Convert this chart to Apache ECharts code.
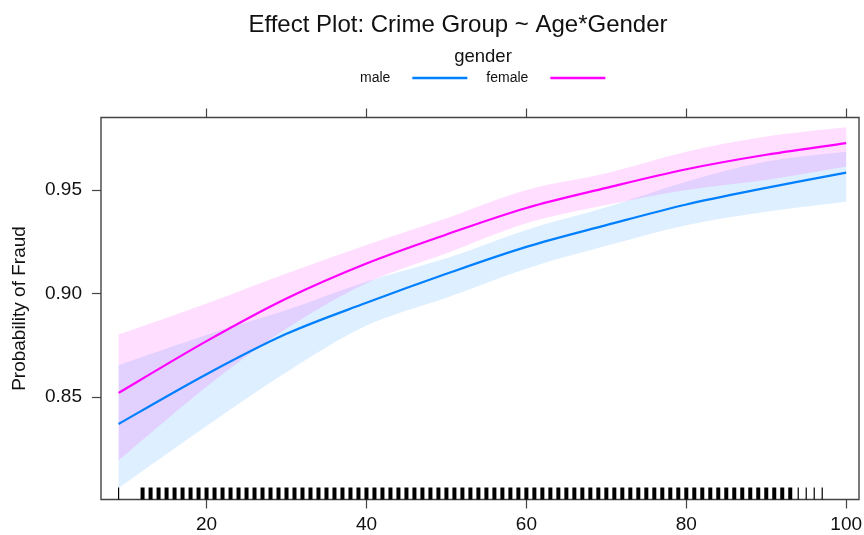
<!DOCTYPE html>
<html>
<head>
<meta charset="utf-8">
<title>Effect Plot: Crime Group ~ Age*Gender</title>
<script src="https://cdn.jsdelivr.net/npm/echarts@6/dist/echarts.min.js"></script>
<style>
  html, body { margin: 0; padding: 0; background: #ffffff; }
  #chart { width: 864px; height: 535px; }
</style>
</head>
<body>
<div id="chart"></div>
<script>
// Fitted probability of fraud by age, per gender, with confidence bands
const ages = [9, 20, 30, 40, 50, 60, 70, 80, 90, 100];

const maleFit   = [0.837, 0.861, 0.8805, 0.8955, 0.9095, 0.9225, 0.933, 0.943, 0.951, 0.9584];
const maleLower = [0.806, 0.836, 0.862, 0.8845, 0.898, 0.912, 0.923, 0.933, 0.9395, 0.9443];
const maleUpper = [0.8654, 0.880, 0.892, 0.9057, 0.917, 0.9307, 0.9416, 0.954, 0.9637, 0.9685];

const femaleFit   = [0.852, 0.877, 0.8976, 0.9145, 0.9285, 0.9413, 0.951, 0.960, 0.967, 0.9726];
const femaleLower = [0.8194, 0.855, 0.8831, 0.905, 0.9194, 0.9339, 0.9427, 0.950, 0.9548, 0.9613];
const femaleUpper = [0.8802, 0.8952, 0.9097, 0.9234, 0.9363, 0.950, 0.9581, 0.9685, 0.9758, 0.9803];

// Observed ages (rug); dense ages carry many observations, sparse ones few
const rugDenseAges = [12, 13, 14, 15, 16, 17, 18, 19, 20, 21, 22, 23, 24, 25, 26, 27, 28, 29, 30,
  31, 32, 33, 34, 35, 36, 37, 38, 39, 40, 41, 42, 43, 44, 45, 46, 47, 48, 49, 50,
  51, 52, 53, 54, 55, 56, 57, 58, 59, 60, 61, 62, 63, 64, 65, 66, 67, 68, 69, 70,
  71, 72, 73, 74, 75, 76, 77, 78, 79, 80, 81, 82, 83, 84, 85, 86, 87, 88, 89, 90,
  91, 92, 93];
const rugSparseAges = [9, 94, 95, 96, 97];

// Tick labels
const xTicks = [20, 40, 60, 80, 100];
const yTicks = [0.85, 0.90, 0.95];

const X_MIN = 6.8, X_MAX = 101.6;
const Y_MIN = 0.8005, Y_MAX = 0.985;

const FONT = '"Liberation Sans", Arial, Helvetica, sans-serif';
const BLUE = '#0080ff';
const MAGENTA = '#ff00ff';
const FRAME = '#444444';
const TEXT = '#111111';

// Catmull-Rom curve through pixel points, as cubic bezier path commands
function curveCommands(pts) {
  let d = '';
  for (let i = 0; i < pts.length - 1; i++) {
    const p0 = pts[Math.max(i - 1, 0)];
    const p1 = pts[i];
    const p2 = pts[i + 1];
    const p3 = pts[Math.min(i + 2, pts.length - 1)];
    const c1 = [p1[0] + (p2[0] - p0[0]) / 6, p1[1] + (p2[1] - p0[1]) / 6];
    const c2 = [p2[0] - (p3[0] - p1[0]) / 6, p2[1] - (p3[1] - p1[1]) / 6];
    d += ' C ' + c1[0] + ' ' + c1[1] + ' ' + c2[0] + ' ' + c2[1] + ' ' + p2[0] + ' ' + p2[1];
  }
  return d;
}

// Confidence band: filled region between lower and upper bounds
function bandSeries(name, lower, upper, color) {
  return {
    type: 'custom',
    name: name,
    data: [[X_MIN, Y_MIN]],
    encode: { x: 0, y: 1 },
    silent: true,
    clip: true,
    z: 1,
    renderItem: (params, api) => {
      const up = ages.map((a, i) => api.coord([a, upper[i]]));
      const lo = ages.map((a, i) => api.coord([a, lower[i]])).reverse();
      const d = 'M ' + up[0][0] + ' ' + up[0][1] + curveCommands(up) +
        ' L ' + lo[0][0] + ' ' + lo[0][1] + curveCommands(lo) + ' Z';
      return { type: 'path', shape: { pathData: d }, style: { fill: color, stroke: null } };
    }
  };
}

// Fitted curve for one gender
function fitSeries(name, fit, color) {
  return {
    type: 'custom',
    name: name,
    data: [[X_MIN, Y_MIN]],
    encode: { x: 0, y: 1 },
    itemStyle: { color: color },
    silent: true,
    clip: true,
    z: 4,
    renderItem: (params, api) => {
      const pts = ages.map((a, i) => api.coord([a, fit[i]]));
      const d = 'M ' + pts[0][0] + ' ' + pts[0][1] + curveCommands(pts);
      return { type: 'path', shape: { pathData: d }, style: { fill: 'none', stroke: color, lineWidth: 2.2 } };
    }
  };
}

function rugSeries(list, w) {
  return {
    type: 'custom',
    data: list.map(a => [a, Y_MIN]),
    encode: { x: 0, y: 1 },
    silent: true,
    z: 3,
    renderItem: (params, api) => {
      const p = api.coord([api.value(0), Y_MIN]);
      return {
        type: 'rect',
        shape: { x: p[0] - w / 2, y: p[1] - 12, width: w, height: 12 },
        style: { fill: '#000000' }
      };
    }
  };
}

const chart = echarts.init(document.getElementById('chart'), null, { renderer: 'canvas' });

chart.setOption({
  animation: false,
  backgroundColor: '#ffffff',
  title: [
    {
      text: 'Effect Plot: Crime Group ~ Age*Gender',
      left: 453, top: 8, textAlign: 'center',
      textStyle: { fontFamily: FONT, fontSize: 24, fontWeight: 'normal', color: TEXT }
    },
    {
      text: 'gender',
      left: 478, top: 42, textAlign: 'center',
      textStyle: { fontFamily: FONT, fontSize: 18.5, fontWeight: 'normal', color: TEXT }
    }
  ],
  legend: {
    data: ['male', 'female'],
    left: 355, top: 66,
    align: 'right',
    icon: 'rect',
    itemWidth: 55, itemHeight: 2.5,
    itemGap: 19,
    selectedMode: false,
    textStyle: { fontFamily: FONT, fontSize: 14, color: TEXT, padding: [0, 17, 0, 0] }
  },
  grid: {
    left: 101, right: 5, top: 117.5, bottom: 35.5,
    show: true, borderColor: FRAME, borderWidth: 1.4,
    backgroundColor: 'transparent',
    outerBoundsMode: 'none', containLabel: false
  },
  xAxis: [
    {
      type: 'value', position: 'bottom', min: X_MIN, max: X_MAX,
      axisLine: { show: false },
      splitLine: { show: false },
      axisTick: { show: true, inside: false, length: 9, customValues: xTicks, lineStyle: { color: FRAME, width: 1.2 } },
      axisLabel: { show: true, customValues: xTicks, margin: 16, fontFamily: FONT, fontSize: 19, color: TEXT }
    },
    {
      type: 'value', position: 'top', min: X_MIN, max: X_MAX,
      axisLine: { show: false },
      splitLine: { show: false },
      axisTick: { show: true, inside: false, length: 9, customValues: xTicks, lineStyle: { color: FRAME, width: 1.2 } },
      axisLabel: { show: false }
    }
  ],
  yAxis: {
    type: 'value', min: Y_MIN, max: Y_MAX,
    name: 'Probability of Fraud', nameLocation: 'middle', nameRotate: 90, nameGap: 72,
    nameTextStyle: { fontFamily: FONT, fontSize: 19, color: TEXT },
    axisLine: { show: false },
    splitLine: { show: false },
    axisTick: { show: true, inside: false, length: 9, customValues: yTicks, lineStyle: { color: FRAME, width: 1.2 } },
    axisLabel: {
      show: true, customValues: yTicks, margin: 19, fontFamily: FONT, fontSize: 19, color: TEXT,
      formatter: v => Number(v).toFixed(2)
    }
  },
  series: [
    bandSeries('male band', maleLower, maleUpper, 'rgba(0,128,255,0.13)'),
    bandSeries('female band', femaleLower, femaleUpper, 'rgba(255,0,255,0.13)'),
    fitSeries('male', maleFit, BLUE),
    fitSeries('female', femaleFit, MAGENTA),
    rugSeries(rugDenseAges, 4),
    rugSeries(rugSparseAges, 1.2)
  ]
});
</script>
</body>
</html>
